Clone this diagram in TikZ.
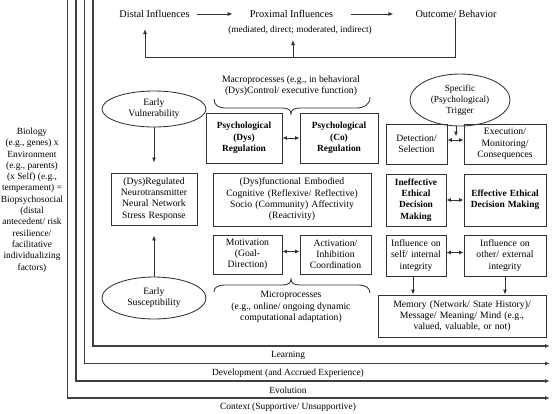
\documentclass[tikz,border=0pt]{standalone}
\usepackage{fontspec}
\setmainfont{Liberation Serif}
\usetikzlibrary{arrows.meta,shapes.geometric}
\newcommand\fsb{\fontsize{9.4}{11.3}\selectfont}
\newcommand\fsx{\fontsize{9.7}{11.3}\selectfont}
\newcommand\fst{\fontsize{10.3}{12}\selectfont}
\newcommand\fss{\fontsize{9.3}{11}\selectfont}
\begin{document}
\begin{tikzpicture}[x=1pt,y=-1pt,
  lc/.style={draw=black!80, line width=0.85pt},
  fl/.style={draw=black!75, line width=1.15pt},
  arr/.style={-{Latex[length=5pt,width=4pt]}},
  dbl/.style={{Latex[length=4.5pt,width=4pt]}-{Latex[length=4.5pt,width=4pt]}},
  bx/.style={lc, rectangle, align=center, inner sep=0pt, font=\fsx},
  bbx/.style={bx, font=\fsb\bfseries},
  el/.style={lc, ellipse, align=center, inner sep=0pt, font=\fsx},
  tx/.style={align=center, inner sep=0pt, font=\fsb}
]
\useasboundingbox (0,0) rectangle (552,413);

% frame L-lines
\draw[fl,arr] (67.5,0) |- (550,398);
\draw[fl,arr] (76,0) |- (550,381);
\draw[fl,arr] (84.5,0) |- (550,363.5);
\draw[fl,arr] (93,0) |- (550,346);

\node[tx] (learn) at (288,355) {Learning};
\node[tx] (devel) at (288,373) {Development (and Accrued Experience)};
\node[tx] (evol) at (288,390) {Evolution};
\node[tx] (ctx) at (288,407) {Context (Supportive/ Unsupportive)};

% left text
\node[tx] (bio) at (32,200) {Biology\\(e.g., genes) x\\Environment\\(e.g., parents)\\(x Self) (e.g.,\\temperament) =\\Biopsychosocial\\(distal\\antecedent/ risk\\resilience/\\facilitative\\individualizing\\factors)};

% top row
\node[tx, font=\fst] (distal) at (154.5,14) {Distal Influences};
\node[tx, font=\fst] (proximal) at (291.5,14) {Proximal Influences};
\node[tx, font=\fst] (outcome) at (456,14) {Outcome/ Behavior};
\node[tx, font=\fss] (mediated) at (300,30) {(mediated, direct; moderated, indirect)};
\draw[lc,arr,shorten <=7pt,shorten >=17pt] (distal) -- (proximal);
\draw[lc,arr,shorten <=18pt,shorten >=22pt] (proximal) -- (outcome);
\coordinate (fbL) at (145,57);
\coordinate (fbTip) at (145,29);
\coordinate (medB) at (293,57);
\coordinate (medT) at (293,40);
\draw[lc,arr] ([xshift=-1pt]outcome.south) |- (fbL) -- (fbTip);
\draw[lc,arr] (medB) -- (medT);

% left column
\node[el, minimum width=104pt, minimum height=36pt] (vuln) at (154,109) {Early\\Vulnerability};
\node[bx, minimum width=86pt, minimum height=52pt, text width=84pt] (dysreg) at (154,199) {(Dys)Regulated\\Neurotransmitter\\Neural Network\\Stress Response};
\node[el, minimum width=104pt, minimum height=42pt] (susc) at (154,298) {Early\\Susceptibility};
\draw[lc,arr,shorten >=10pt] (vuln) -- (dysreg);
\draw[lc,arr,shorten >=10pt] (susc) -- (dysreg);

% macro
\node[tx, font=\fsx] (macro) at (291,86) {Macroprocesses (e.g., in behavioral\\(Dys)Control/ executive function)};
\draw[lc] (214,99) .. controls (214,105) and (218,108) .. (226,108) -- (282,108) .. controls (288,108) and (291,110) .. (291,114) .. controls (291,110) and (294,108) .. (300,108) -- (356,108) .. controls (364,108) and (370,105) .. (370,97);
\node[bbx, minimum width=76pt, minimum height=50pt, text width=74pt] (pdys) at (244,138) {Psychological\\(Dys)\\Regulation};
\node[bbx, minimum width=78pt, minimum height=50pt, text width=76pt] (pco) at (339,138) {Psychological\\(Co)\\Regulation};
\draw[lc,dbl] (pdys) -- (pco);

\node[bx, minimum width=158pt, minimum height=53pt, text width=156pt] (embod) at (292,199.5) {(Dys)functional Embodied\\Cognitive (Reflexive/ Reflective)\\Socio (Community) Affectivity\\(Reactivity)};
\node[bx, minimum width=69pt, minimum height=39pt, text width=67pt] (motiv) at (247.5,254.5) {Motivation\\(Goal-\\Direction)};
\node[bx, minimum width=71pt, minimum height=39pt, text width=69pt] (activ) at (335.5,254.5) {Activation/\\Inhibition\\Coordination};
\draw[lc,dbl] ([yshift=3pt]motiv.east) -- ([yshift=3pt]activ.west);
\draw[lc] (214,292) .. controls (214,287) and (218,285) .. (226,285) -- (282,285) .. controls (288,285) and (291,283) .. (291,279) .. controls (291,283) and (294,285) .. (300,285) -- (358,285) .. controls (366,285) and (370,288) .. (370,293);
\node[tx, font=\fsx] (micro) at (291,307) {Microprocesses\\(e.g., online/ ongoing dynamic\\computational adaptation)};

% right column
\node[el, font=\fss, minimum width=100pt, minimum height=52pt] (trig) at (460,100) {Specific\\(Psychological)\\Trigger};
\node[bx, minimum width=61pt, minimum height=40pt, text width=59pt] (detect) at (416.5,144) {Detection/\\Selection};
\node[bx, minimum width=82pt, minimum height=40pt, text width=80pt] (exec) at (505,144) {Execution/\\Monitoring/\\Consequences};
\draw[lc,dbl] ([yshift=4pt]detect.east) -- ([yshift=4pt]exec.west);
\coordinate (tgt) at (456,136.5);
\draw[lc,arr] (trig.south -| tgt) -- (tgt);

\node[bbx, minimum width=60pt, minimum height=52pt, text width=58pt] (ineff) at (416,200) {Ineffective\\Ethical\\Decision\\Making};
\node[bbx, minimum width=82pt, minimum height=52pt, text width=80pt] (eff) at (505,200) {Effective Ethical\\Decision Making};
\draw[lc,dbl] (ineff) -- (eff);

\node[bx, minimum width=60pt, minimum height=41pt, text width=58pt] (self) at (416,255.5) {Influence on\\self/ internal\\integrity};
\node[bx, minimum width=82pt, minimum height=41pt, text width=80pt] (other) at (505,255.5) {Influence on\\other/ external\\integrity};
\draw[lc,dbl] ([yshift=3pt]self.east) -- ([yshift=3pt]other.west);

\node[bx, minimum width=168pt, minimum height=42pt, text width=166pt] (mem) at (462,316) {Memory (Network/ State History)/\\Message/ Meaning/ Mind (e.g.,\\valued, valuable, or not)};
\draw[lc,arr] ([xshift=-3pt]self.south) -- ([xshift=-3pt]self.south |- mem.north);
\draw[lc,arr] (other.south) -- (other.south |- mem.north);
\end{tikzpicture}
\end{document}
